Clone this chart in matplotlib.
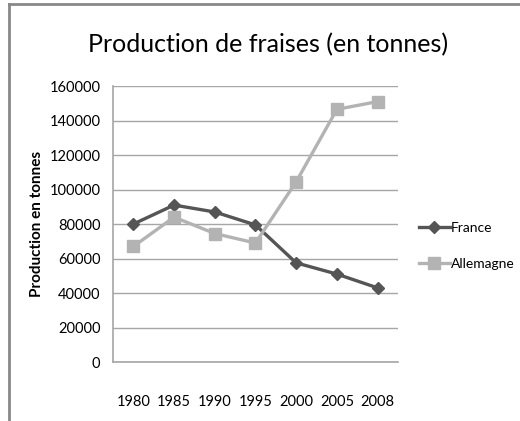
import matplotlib.pyplot as plt
from matplotlib.lines import Line2D

plt.rcParams['font.family'] = ['Lato', 'DejaVu Sans']

annees = ['1980', '1985', '1990', '1995', '2000', '2005', '2008']
france = [80000, 91000, 87000, 79500, 57500, 51000, 43000]
allemagne = [67000, 84000, 74500, 69000, 104500, 146500, 151000]
yticks = [0, 20000, 40000, 60000, 80000, 100000, 120000, 140000, 160000]

fig = plt.figure(figsize=(5.2, 4.21), dpi=100)
ax = fig.add_axes([0.2173, 0.140, 0.548, 0.6556])

x = range(len(annees))
ax.plot(x, france, color='#555555', lw=2.4, marker='D', ms=6, label='France')
ax.plot(x, allemagne, color='#b3b3b3', lw=2.4, marker='s', ms=8, label='Allemagne')

ax.set_xlim(-0.5, len(annees) - 0.5)
ax.set_ylim(0, 160000)
ax.set_yticks(yticks)
ax.set_yticklabels([str(v) for v in yticks], fontsize=10.5)
ax.set_xticks(list(x))
ax.set_xticklabels(annees, fontsize=10.5)
ax.tick_params(length=0, pad=9)
ax.tick_params(axis='x', pad=24)
ax.yaxis.grid(True, color='#a6a6a6', lw=1)
ax.set_axisbelow(True)
for s in ['top', 'right']:
    ax.spines[s].set_visible(False)
for s in ['left', 'bottom']:
    ax.spines[s].set_color('#a6a6a6')
    ax.spines[s].set_linewidth(1.2)

ax.set_ylabel('Production en tonnes', fontsize=11, fontweight='bold', labelpad=4)
fig.text(0.515, 0.893, 'Production de fraises (en tonnes)', fontsize=18, ha='center', va='center')

ax.legend(loc='center left', bbox_to_anchor=(1.03, 0.42), frameon=False, fontsize=10,
          handlelength=2.2, handletextpad=0.1, labelspacing=1.7)

# cadre extérieur
fig.add_artist(Line2D([0.018, 0.018], [0, 0.99], color='#888888', lw=2))
fig.add_artist(Line2D([0.018, 1.0], [0.99, 0.99], color='#888888', lw=2))

fig.savefig('out.png', dpi=100)
